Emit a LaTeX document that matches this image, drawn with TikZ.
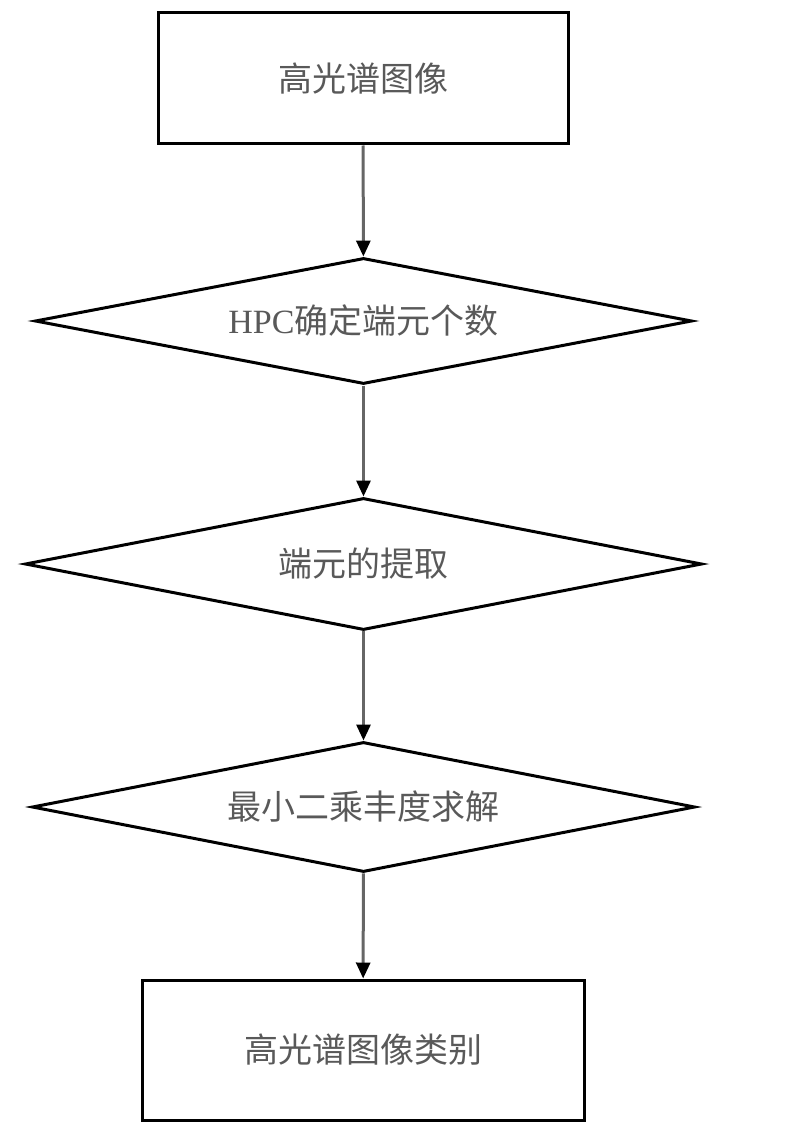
\documentclass[tikz,border=0pt]{standalone}
\usepackage{fontspec}
\setmainfont{Liberation Serif}
\newfontfamily\cjk{Noto Sans CJK SC}
\usetikzlibrary{shapes.geometric,arrows.meta}

\begin{document}
\begin{tikzpicture}[x=1pt, y=-1pt,
    block/.style={shape=rectangle, draw=black, line width=3pt, font=\cjk\fontsize{34}{40}\selectfont, text=black!65},
    decision/.style={shape=diamond, draw=black, line width=3pt, inner sep=0pt, aspect=5.2, font=\cjk\fontsize{34}{40}\selectfont, text=black!65},
    flow/.style={draw=black!60, line width=3pt, -{Triangle[length=16pt, width=14pt, color=black]}}]

    \useasboundingbox (0,0) rectangle (793,1134);

    \node[block, minimum width=410pt, minimum height=131pt] (image) at (363,78.5) {高光谱图像};
    \node[decision, minimum width=657pt, minimum height=126pt] (hpc) at (363.5,321) {{\rmfamily HPC}确定端元个数};
    \node[decision, minimum width=677pt, minimum height=132pt] (extract) at (363.5,564) {端元的提取};
    \node[decision, minimum width=663pt, minimum height=130pt] (lsq) at (363.5,807) {最小二乘丰度求解};
    \node[block, minimum width=442pt, minimum height=140pt] (class) at (363,1050) {高光谱图像类别};

    \path [flow] (image) -- (hpc);
    \path [flow] (hpc) -- (extract);
    \path [flow] (extract) -- (lsq);
    \path [flow] (lsq) -- (class);

\end{tikzpicture}
\end{document}
